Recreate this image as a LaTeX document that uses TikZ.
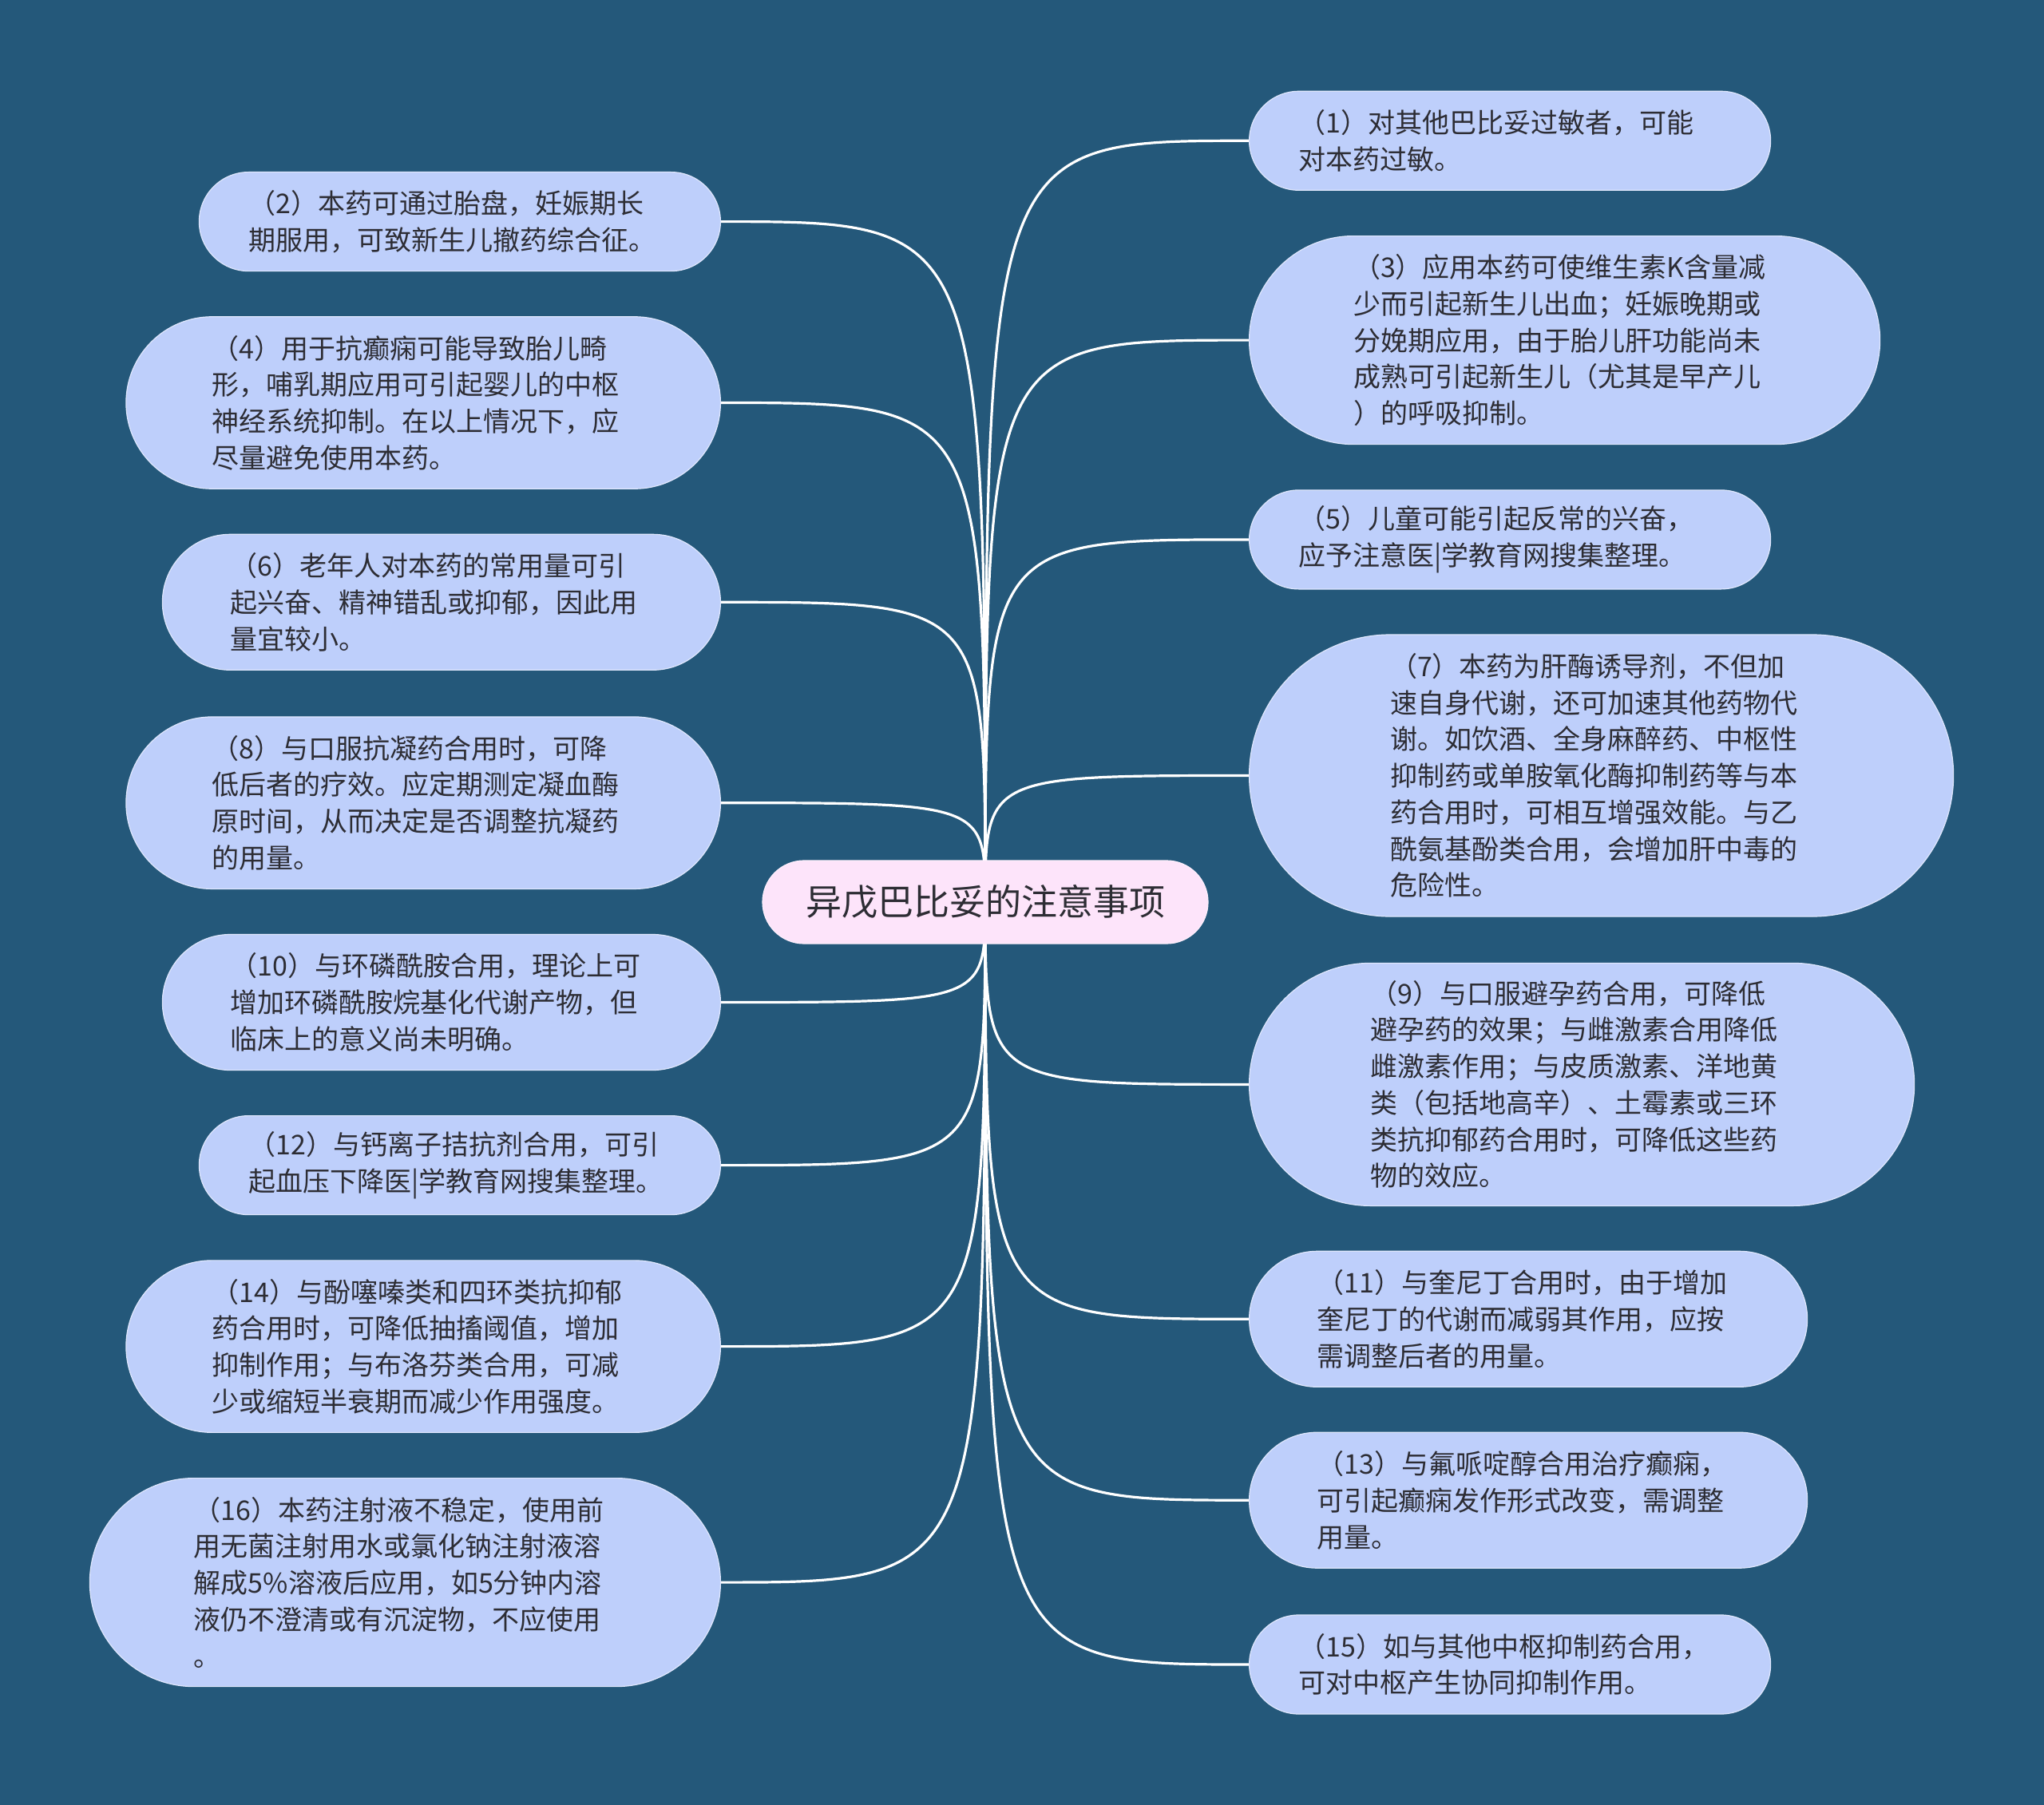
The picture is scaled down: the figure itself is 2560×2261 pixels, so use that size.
\documentclass[tikz,border=0pt]{standalone}
\usepackage{fontspec}
\setmainfont{Noto Sans CJK SC}
\definecolor{bg}{RGB}{36,88,122}
\definecolor{boxc}{RGB}{190,207,251}
\definecolor{rootc}{RGB}{253,228,250}
\definecolor{txt}{RGB}{45,45,52}
\pgfdeclarelayer{bgl}
\pgfdeclarelayer{lines}
\pgfsetlayers{bgl,lines,main}
\tikzset{
  item/.style={rectangle, fill=boxc, draw=white!50!boxc, line width=1.2pt, text=txt,
    font=\fontsize{34}{45.7}\selectfont, align=left, text width=529pt,
    inner xsep=0pt, inner ysep=0pt},
  hsz/.style={minimum height=#1, minimum width=#1+529pt, rounded corners=#1/2},
  lft/.style={item, anchor=east},
  rgt/.style={item, anchor=west},
  conn/.style={draw=white, line width=3.2pt},
}
\begin{document}
\begin{tikzpicture}[x=1pt,y=-1pt]
\useasboundingbox (0,0) rectangle (2560,2261);
\begin{pgfonlayer}{bgl}
\fill[bg] (0,0) rectangle (2560,2261);
\end{pgfonlayer}

\node[rectangle, fill=rootc, draw=white!40!rootc, line width=1.2pt, text=txt,
  font=\fontsize{45}{54}\selectfont, minimum width=558pt, minimum height=104pt,
  rounded corners=52pt, inner sep=0pt] (root) at (1234,1130) {异戊巴比妥的注意事项};

% left side
\node[lft, hsz=124pt] (L2) at (903,277.6) {（2）本药可通过胎盘，妊娠期长\\期服用，可致新生儿撤药综合征。};
\node[lft, hsz=215.5pt] (L4) at (903,504.5) {（4）用于抗癫痫可能导致胎儿畸\\形，哺乳期应用可引起婴儿的中枢\\神经系统抑制。在以上情况下，应\\尽量避免使用本药。};
\node[lft, hsz=170pt] (L6) at (903,754.3) {（6）老年人对本药的常用量可引\\起兴奋、精神错乱或抑郁，因此用\\量宜较小。};
\node[lft, hsz=215.5pt] (L8) at (903,1005.7) {（8）与口服抗凝药合用时，可降\\低后者的疗效。应定期测定凝血酶\\原时间，从而决定是否调整抗凝药\\的用量。};
\node[lft, hsz=170pt] (L10) at (903,1255.5) {（10）与环磷酰胺合用，理论上可\\增加环磷酰胺烷基化代谢产物，但\\临床上的意义尚未明确。};
\node[lft, hsz=124pt] (L12) at (903,1459.6) {（12）与钙离子拮抗剂合用，可引\\起血压下降医|学教育网搜集整理。};
\node[lft, hsz=215.5pt] (L14) at (903,1686.6) {（14）与酚噻嗪类和四环类抗抑郁\\药合用时，可降低抽搐阈值，增加\\抑制作用；与布洛芬类合用，可减\\少或缩短半衰期而减少作用强度。};
\node[lft, hsz=261pt] (L16) at (903,1982.1) {（16）本药注射液不稳定，使用前\\用无菌注射用水或氯化钠注射液溶\\解成5\%溶液后应用，如5分钟内溶\\液仍不澄清或有沉淀物，不应使用\\。};

% right side
\node[rgt, hsz=124pt] (R1) at (1564,176.3) {（1）对其他巴比妥过敏者，可能\\对本药过敏。};
\node[rgt, hsz=261pt] (R3) at (1564,426.1) {（3）应用本药可使维生素K含量减\\少而引起新生儿出血；妊娠晚期或\\分娩期应用，由于胎儿肝功能尚未\\成熟可引起新生儿（尤其是早产儿\\）的呼吸抑制。};
\node[rgt, hsz=124pt] (R5) at (1564,675.9) {（5）儿童可能引起反常的兴奋，\\应予注意医|学教育网搜集整理。};
\node[rgt, hsz=353pt] (R7) at (1564,971.5) {（7）本药为肝酶诱导剂，不但加\\速自身代谢，还可加速其他药物代\\谢。如饮酒、全身麻醉药、中枢性\\抑制药或单胺氧化酶抑制药等与本\\药合用时，可相互增强效能。与乙\\酰氨基酚类合用，会增加肝中毒的\\危险性。};
\node[rgt, hsz=304pt] (R9) at (1564,1358.4) {（9）与口服避孕药合用，可降低\\避孕药的效果；与雌激素合用降低\\雌激素作用；与皮质激素、洋地黄\\类（包括地高辛）、土霉素或三环\\类抗抑郁药合用时，可降低这些药\\物的效应。};
\node[rgt, hsz=170pt] (R11) at (1564,1652.3) {（11）与奎尼丁合用时，由于增加\\奎尼丁的代谢而减弱其作用，应按\\需调整后者的用量。};
\node[rgt, hsz=170pt] (R13) at (1564,1879.2) {（13）与氟哌啶醇合用治疗癫痫，\\可引起癫痫发作形式改变，需调整\\用量。};
\node[rgt, hsz=124pt] (R15) at (1564,2085) {（15）如与其他中枢抑制药合用，\\可对中枢产生协同抑制作用。};

\begin{pgfonlayer}{lines}
\foreach \n in {L2,L4,L6,L8,L10,L12,L14,L16}
  \draw[conn] (root.center) .. controls (root.center |- \n.east) .. (\n.east);
\foreach \n in {R1,R3,R5,R7,R9,R11,R13,R15}
  \draw[conn] (root.center) .. controls (root.center |- \n.west) .. (\n.west);
\end{pgfonlayer}
\end{tikzpicture}
\end{document}
